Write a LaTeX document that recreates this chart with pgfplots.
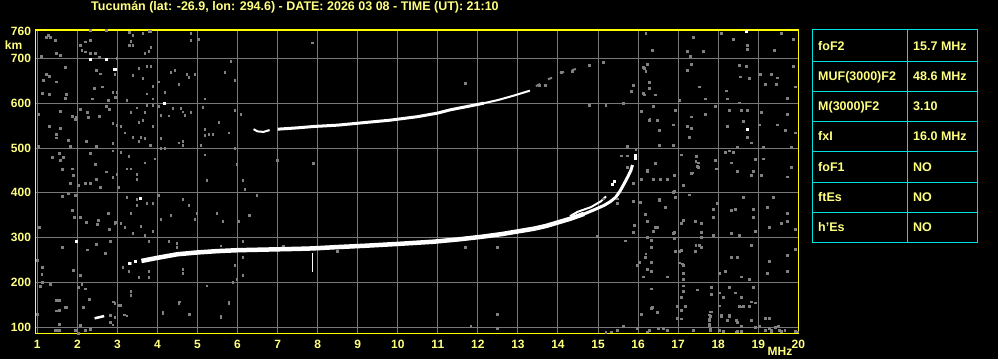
\documentclass[border=0pt]{standalone}
\usepackage{pgfplots}
\pgfplotsset{compat=1.18}
\usepackage{fontspec}
\setmainfont{Liberation Sans}
\usepackage{graphicx}
\definecolor{ylw}{RGB}{255,255,128}
\definecolor{bord}{RGB}{255,255,0}
\definecolor{gridc}{RGB}{120,120,120}
\definecolor{noise}{RGB}{128,128,128}
\definecolor{tabc}{RGB}{0,225,225}
\newcommand{\lbl}{\fontsize{12}{13}\selectfont\bfseries}
\newcommand{\tfont}{\fontsize{12.5}{14}\selectfont\bfseries}
\begin{document}
\begin{tikzpicture}[x=1pt,y=1pt]
\fill[black] (0,0) rectangle (998,359);
\useasboundingbox (0,0) rectangle (998,359);
\begin{axis}[
  at={(35.7pt,25.7pt)}, anchor=south west, scale only axis,
  width=762.6pt, height=303.3pt,
  xmin=0.96, xmax=20, ymin=86.6, ymax=763.3,
  axis line style={bord, line width=1.5pt},
  xtick={1,...,20}, ytick={100,200,...,700},
  extra y ticks={760}, extra y tick style={grid=none},
  grid=major, major grid style={gridc, line width=1pt},
  major tick length=0pt,
  tick label style={text=ylw, font=\lbl, inner sep=0pt},
  /pgf/number format/assume math mode=true,
  xticklabel style={anchor=north, yshift=-6.5pt},
  yticklabel style={anchor=east, xshift=-4.5pt},
  clip=true,
]
% noise
\addplot[only marks, mark=square*, mark size=0.9pt, draw=noise, fill=noise] coordinates {
(16.19,756)(17.38,747)(18.08,756)(18.38,743)(18.73,730)(18.73,721)(19.4,719)(19.58,756)(19.88,743)
(16.36,719)(17.23,716)(17.63,716)(17.3,704)(16.23,687)(16.15,678)(17.33,687)(17.23,673)(18.53,685)
(18.69,683)(18.55,659)(18.78,655)(19.05,664)(19.33,664)(19.48,657)(19.88,683)(17.53,637)(16.28,633)
(16.43,619)(16.15,619)(18.19,628)(18.23,610)(17.68,610)(17.03,607)(18.53,601)(19.18,642)(19.45,642)
(19.73,612)(19.93,637)(16.38,593)(16.93,584)(16.28,562)(16.48,562)(16.53,539)(16.88,552)(17.33,570)
(17.68,575)(17.23,548)(17.33,544)(17.28,525)(17.93,593)(18.28,584)(18.58,584)(18.73,584)(18.63,560)
(18.23,548)(18.73,525)(18.83,512)(19.08,579)(19.03,552)(19.48,552)(19.68,539)(19.73,575)(19.93,534)
(16.53,507)(16.88,507)(18.48,503)(19.13,503)(19.83,501)(17.08,485)(17.45,481)(17.5,467)(17.5,458)
(17.35,445)(17.93,472)(17.95,454)(16.43,466)(16.23,449)(16.9,440)(18.18,490)(18.28,494)(18.38,490)
(18.33,467)(18.93,475)(18.48,449)(18.88,449)(18.83,440)(19.08,440)(19.13,476)(19.83,458)(19.73,436)
(17.13,417)(17.28,396)(16.88,402)(16.93,390)(16.53,386)(16.68,368)(16.18,353)(16.23,337)(16.43,324)
(16.38,315)(16.88,310)(17.08,333)(17.43,337)(17.58,333)(17.58,313)(17.58,301)(17.88,364)(17.88,346)
(17.98,377)(17.88,306)(18.33,361)(18.43,364)(18.63,390)(18.88,364)(18.88,346)(18.33,310)(18.53,306)
(18.93,315)(19.23,368)(19.38,390)(19.73,355)(19.58,333)(19.73,337)(19.28,324)(19.93,319)(16.33,294)
(16.33,279)(16.18,257)(16.93,270)(17.03,270)(17.43,270)(17.53,284)(17.58,279)(17.13,239)(17.03,244)
(17.13,221)(17.13,208)(16.73,213)(16.23,230)(16.33,226)(16.13,213)(18.33,257)(18.48,257)(18.83,284)
(18.18,226)(18.03,221)(18.58,213)(18.78,208)(19.28,248)(19.23,221)(19.73,261)(19.73,226)(19.93,275)
(16.33,186)(17.13,193)(17.13,180)(17.48,184)(17.83,189)(17.83,174)(17.08,168)(16.98,147)(17.18,147)
(17.08,137)(17.08,119)(16.48,134)(16.33,143)(16.08,130)(18.03,177)(18.13,168)(18.28,190)(18.43,177)
(18.58,168)(18.88,190)(18.63,147)(18.78,147)(18.53,147)(18.93,155)(18.08,124)(18.28,124)(18.48,112)
(18.83,116)(19.18,121)(16.5,97)(16.28,94)(17.78,128)(17.78,118)(17.78,108)(17.8,97)(17.83,135)
(18.93,101)(19.28,98)(19.43,101)(19.53,94)(19.93,91)(18.03,94)(18.13,91)(18.48,91)(18.58,91)
(19.18,94)(19.33,91)(19.58,91)(16.23,90)
(15.19,89)(15.32,90)(15.48,94)(15.63,103)(15.98,98)(16.08,130)(16.23,90)(16.36,145)(16.48,135)
(16.63,98)(16.73,94)(16.98,148)(16.98,120)(17.08,139)(17.19,148)(17.38,94)(17.8,135)(17.8,124)
(17.78,115)(17.78,105)(17.8,94)(18.07,128)(18.03,148)(18.28,128)(18.23,116)(18.44,116)(18.58,103)
(18.55,146)(18.63,148)(18.78,148)(18.83,157)(18.83,116)(18.44,90)(19.03,103)(19.28,120)(19.33,94)
(19.5,103)(19.66,94)(19.98,90)
(3.29,758)(3.63,756)(3.78,760)(3.83,761)(3.38,752)(3.33,739)(3.29,730)(3.38,730)(3.68,712)(3.78,716)
(3.83,725)(4.83,756)(4.83,741)(5.03,743)(2.98,701)(2.93,664)(3.38,663)(3.53,678)(3.73,683)(3.83,683)
(3.63,655)(3.88,638)(4.03,648)(4.33,670)(4.43,674)(4.53,642)(4.73,664)(4.78,658)(4.93,664)(5.83,693)
(5.68,670)(5.93,651)(3.73,621)(3.88,610)(3.88,596)(4.18,625)(3.23,606)(2.88,625)(2.98,625)(5.18,610)
(3.48,590)(3.33,579)(3.68,579)(3.73,596)(4.03,594)(4.08,573)(4.28,572)(4.38,588)(4.58,588)(4.63,581)
(4.68,573)(4.83,579)(5.13,591)(5.93,584)(6.08,575)(5.53,557)(5.78,534)(5.18,542)(5.18,528)(5.28,530)
(5.38,530)(3.53,557)(3.63,562)(2.98,551)(3.08,548)(3.18,534)(3.38,525)(3.53,516)(3.58,525)(3.68,521)
(3.88,548)(3.82,507)(4.08,521)(4.53,512)(4.63,516)(4.63,507)(5.08,506)(2.88,510)(2.88,494)(3.08,490)
(3.28,481)(3.93,476)(3.68,467)(3.23,454)(3.33,454)(3.48,442)(5.18,485)(5.98,463)(4.08,499)(4.18,499)
(5.93,499)
(3.48,431)(5.23,428)(3.03,413)(3.23,390)(3.48,386)(3.48,372)(3.73,377)(3.88,377)(4.03,395)(4.63,386)
(4.78,372)(6.18,408)(3.33,354)(2.93,332)(3.08,332)(3.18,323)(3.58,325)(3.38,310)(3.68,305)(3.88,314)
(4.08,341)(4.33,350)(4.93,341)(4.98,354)(5.48,354)(5.63,337)(6.03,337)(6.28,350)(2.83,292)(3.78,292)
(4.28,292)(4.48,287)(4.48,278)(5.58,282)(6.13,292)(3.33,243)(3.28,225)(3.53,211)(3.78,225)(3.78,211)
(3.13,234)(4.63,229)(4.63,220)(5.93,238)(6.13,256)(6.13,216)(5.98,207)(5.88,201)(5.23,193)(3.33,180)
(3.33,171)(2.93,154)(3.08,149)(2.83,126)(2.93,122)(3.23,126)(4.53,154)(4.13,132)(4.78,128)(5.58,123)
(5.78,154)
(1.28,752)(1.32,748)(1.23,747)(1.44,741)(1.48,711)(1.58,707)(1.69,681)(2.33,762)(2.73,762)(2.33,741)
(2.19,737)(2.07,730)(2.11,719)(2.19,715)(2.33,711)(2.44,711)(2.55,702)(1.09,704)(1.23,665)(1.15,652)
(1.3,660)(1.48,648)(1.13,623)(1.3,620)(1.73,620)(1.69,611)(2.48,674)(2.57,666)(2.63,637)(2.43,633)
(2.38,610)(2.77,607)(2.94,614)(2.72,594)(2.8,587)(1.03,576)(1.58,583)(1.88,571)(1.94,564)(1.97,569)
(2.07,586)(2.25,579)(2.28,568)(2.55,571)(2.88,555)(2.98,551)(1.3,549)(1.58,544)(1.48,531)(1.48,523)
(1.78,517)(1.82,504)(1.03,504)(2.23,516)(2.48,504)(2.33,488)(1.38,479)(1.55,489)(1.65,480)(1.58,473)
(1.63,452)(1.88,454)(1.9,439)(2.03,417)(1.82,421)(2.19,422)(2.32,422)(2.44,464)(2.47,430)(2.57,413)
(2.73,447)(2.88,434)(2.98,441)(1.63,392)(1.78,398)(1.94,394)(1.88,361)(1.92,345)(2.07,346)(2.22,335)
(2.52,339)(2.5,330)(2.8,318)(2.94,335)(2.77,355)(1.05,324)(1.63,279)(2.25,273)(2.48,285)(2.69,266)
(1.13,234)(1.11,219)(1.0,249)(1.9,227)(2.08,216)(2.11,197)(1.13,201)(1.08,191)(1.33,197)(2.03,189)
(2.19,186)(2.3,163)(1.48,161)(1.69,145)(2.15,145)(1.48,137)(3.03,149)(1.0,130)(2.07,104)(1.44,93)
(1.53,93)(1.97,93)(2.03,87)(2.19,93)(2.33,96)(2.82,111)(2.88,106)
(1.55,160)(1.73,145)(1.55,139)(1.55,107)(1.44,94)(1.55,94)(1.94,94)(2.08,105)(2.9,157)(2.82,128)
(3.17,128)(4.13,135)(4.55,157)(4.79,130)(5.58,125)(5.78,157)(11.82,102)(12.48,130)(12.48,98)
(7.87,735)(6.98,473)(7.88,466)(6.13,428)(6.18,407)(6.48,395)(6.3,350)(7.13,282)(8.48,270)(11.69,279)
(12.48,279)(11.69,644)(13.53,641)(13.69,640)(14.09,669)(14.36,671)(14.78,684)(15.13,692)(14.78,595)
(15.19,595)(15.63,600)(15.88,640)(15.83,626)(16.13,623)(16.28,647)(16.13,681)(16.19,671)(16.08,583)
(16.29,564)(15.73,504)(15.94,498)
(15.73,503)(15.58,483)(15.73,483)(15.73,457)(16.44,466)(16.23,450)(16.08,431)(16.38,431)(16.55,431)
(16.72,431)(17.13,418)(16.9,404)(17.32,444)(17.44,470)(17.48,459)(17.08,485)(17.28,525)(16.53,507)
(16.88,507)(15.88,421)(16.05,379)(15.88,381)(16.53,384)(16.69,367)(16.19,353)(16.47,324)(16.23,301)
(15.9,327)(15.88,313)(15.67,293)(14.98,303)(16.9,313)(17.07,272)(16.9,298)(17.44,283)(16.19,264)
(16.33,246)(16.03,246)(15.98,239)(17.11,242)(17.13,339)(17.44,337)(15.48,376)(15.48,387)(15.13,387)
};
% white specks
\addplot[only marks, mark=square*, mark size=1pt, draw=white, fill=white] coordinates {
(2.33,698)(2.73,698)(2.94,675)(2.93,675)(4.18,601)(3.58,389)(1.98,292)(18.73,543)(15.94,483)
(15.92,477)(18.69,761)(3.3,244)(3.45,247)(15.36,420)(15.4,426)
};
% small echo near 2.5 MHz
\addplot[white, line width=2.5pt] coordinates {(2.43,120)(2.67,125)};
% main F2 trace
\addplot[white, line width=4.5pt, line join=round] coordinates {
(3.6,248)(4.0,255)(4.5,263)(5.0,267)(5.5,270)(6.0,272)(6.5,273)(7.0,274)(7.5,275)(7.88,276)
(8.5,279)(9.2,282)(10.0,286)(10.9,291)(11.5,296)(12.1,302)(12.6,308)(13.0,314)(13.4,320)(13.7,326)
(14.0,334)(14.3,342)(14.65,353)
};
\addplot[white, line width=3pt, line join=round] coordinates {
(14.6,351)(14.9,362)(15.15,372)(15.3,380)(15.44,390)(15.55,404)(15.65,420)(15.75,437)(15.82,450)(15.86,462)
};
\addplot[white, line width=2pt, line join=round] coordinates {
(14.3,348)(14.5,358)(14.82,368)(15.07,381)(15.2,392)
};
% vertical spike
\addplot[white, line width=1.5pt] coordinates {(7.87,266)(7.87,224)};
% second hop trace
\addplot[white, line width=2pt] coordinates {(6.4,542)(6.5,537)(6.65,536)(6.8,540)};
\addplot[white, line width=3pt] coordinates {
(7.0,542)(7.5,545)(7.9,548)(8.5,551)(9.2,557)(9.8,562)(10.5,570)(11.0,578)(11.3,585)(11.7,592)(12.15,600)
};
\addplot[white, line width=2pt] coordinates {(12.15,600)(12.5,607)(12.9,617)(13.3,628)};
\addplot[noise, line width=2pt] coordinates {(13.45,638)(13.55,643)};
\addplot[noise, line width=2pt] coordinates {(13.75,653)(13.85,657)};
\addplot[noise, line width=2pt] coordinates {(14.05,667)(14.15,670)};
\addplot[noise, line width=2pt] coordinates {(14.35,674)(14.45,676)};
\end{axis}
% texts
\node[anchor=base west, inner sep=0pt, text=ylw, font=\tfont] at (91,348) {Tucumán (lat: -26.9, lon: 294.6) - DATE: 2026 03 08 - TIME (UT): 21:10};
\node[anchor=base, inner sep=0pt, text=ylw, font=\lbl] at (13.5,309.5) {km};
\node[anchor=base, inner sep=0pt, text=ylw, font=\lbl] at (780,4) {MHz};
% table
\begin{scope}[tabc, line width=1pt]
\draw (812.3,116.7) rectangle (977.7,329);
\foreach \yy in {297.3,267.7,237.7,207.3,176.3,146.3} \draw (812.3,\yy) -- (977.7,\yy);
\draw (907.3,116.7) -- (907.3,329);
\end{scope}
\begin{scope}[every node/.style={anchor=base west, inner sep=0pt, text=ylw, font=\tfont}]
\node at (818,308.9) {foF2};          \node at (913,308.9) {15.7 MHz};
\node at (818,278.2) {MUF(3000)F2};   \node at (913,278.2) {48.6 MHz};
\node at (818,248.4) {M(3000)F2};     \node at (913,248.4) {3.10};
\node at (818,218.2) {fxI};           \node at (913,218.2) {16.0 MHz};
\node at (818,187.5) {foF1};          \node at (913,187.5) {NO};
\node at (818,157.0) {ftEs};          \node at (913,157.0) {NO};
\node at (818,127.2) {h'Es};          \node at (913,127.2) {NO};
\end{scope}
\end{tikzpicture}
\end{document}
